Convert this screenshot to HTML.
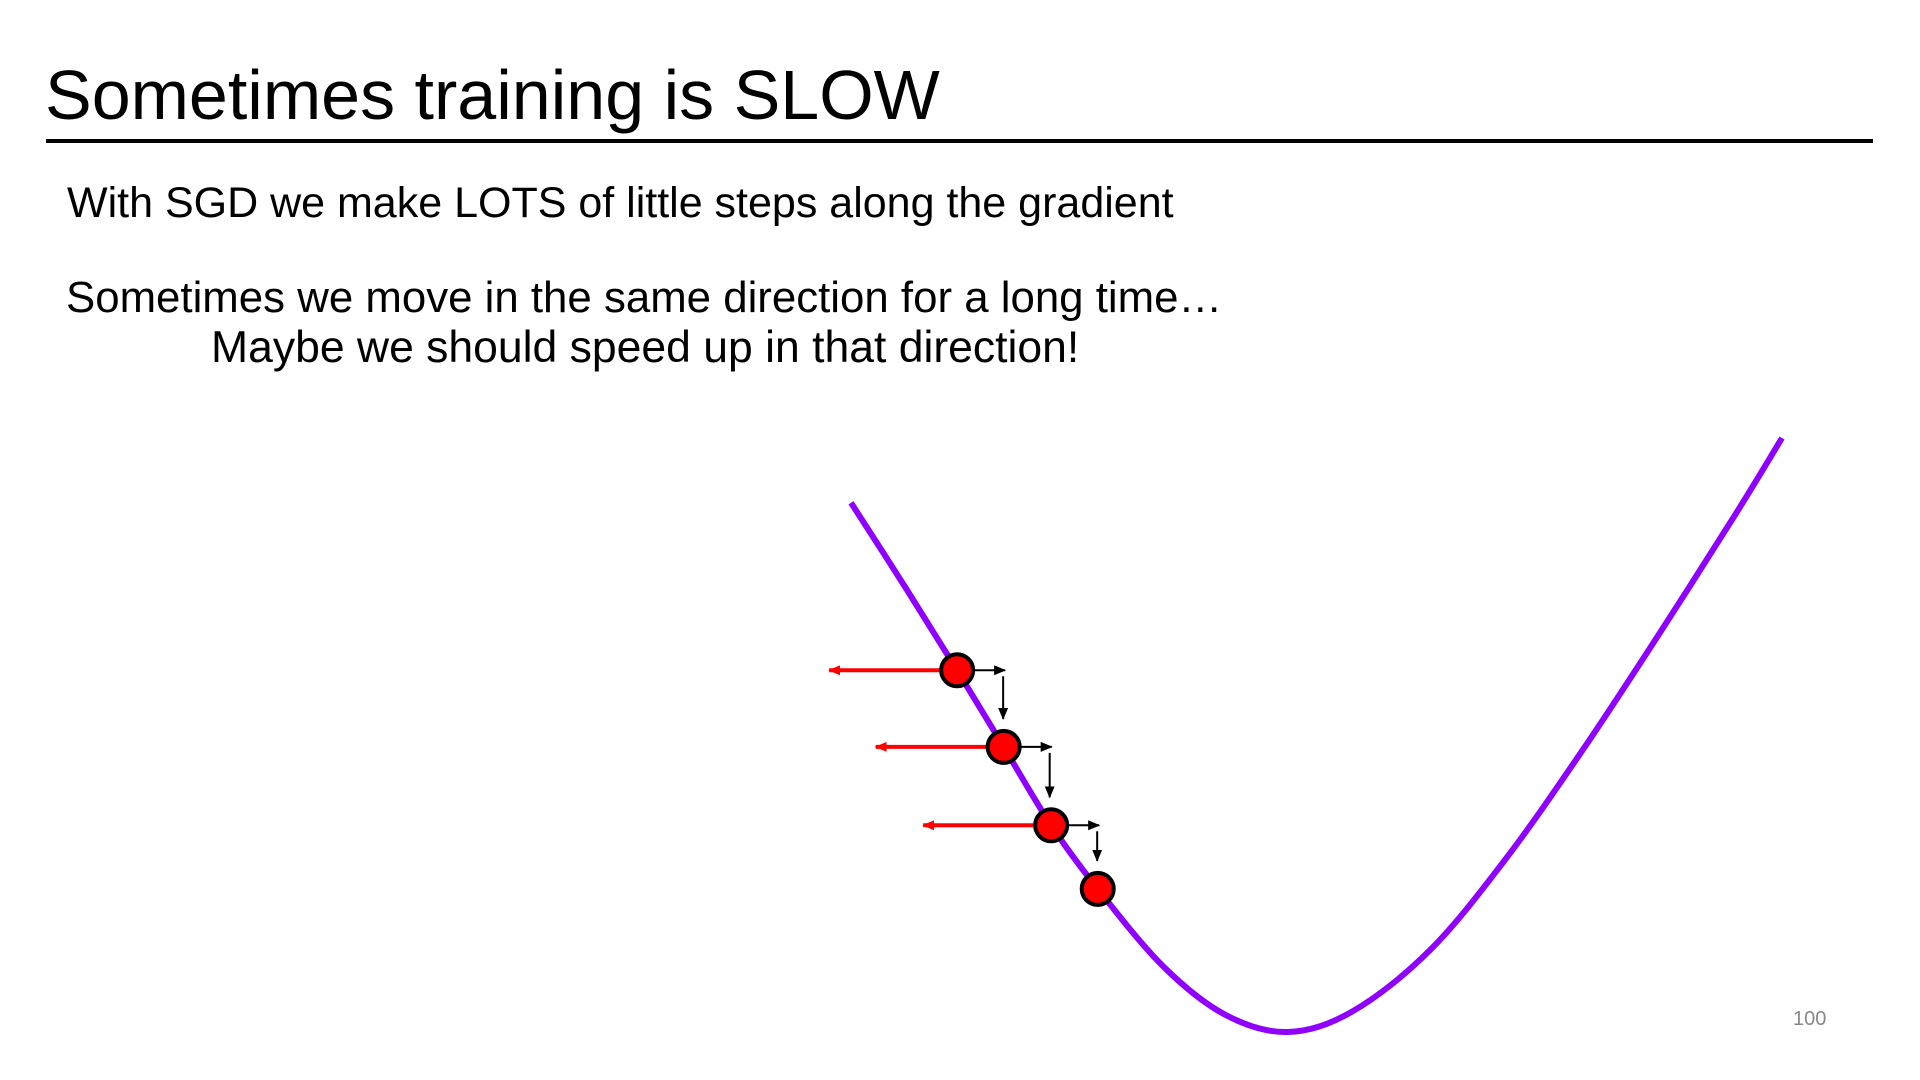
<!DOCTYPE html>
<html><head><meta charset="utf-8"><style>
html,body{margin:0;padding:0;width:1920px;height:1080px;background:#fff;overflow:hidden;font-family:"Liberation Sans",sans-serif;}
.t{position:absolute;white-space:nowrap;color:#000;}
</style></head><body>
<div class="t" style="left:45px;top:55px;font-size:70px;font-weight:300;">Sometimes training is SLOW</div>
<div style="position:absolute;left:46px;top:139px;width:1827px;height:4px;background:#000;"></div>
<div class="t" style="left:67px;top:179px;font-size:43px;">With SGD we make LOTS of little steps along the gradient</div>
<div class="t" style="left:66px;top:273px;font-size:43.8px;">Sometimes we move in the same direction for a long time…</div>
<div class="t" style="left:211px;top:323px;font-size:44.5px;">Maybe we should speed up in that direction!</div>
<div class="t" style="left:1793px;top:1008px;font-size:20px;color:#888;">100</div>
<svg id="chart" width="1920" height="1080" style="position:absolute;left:0;top:0;">
<defs>
<marker id="ar" markerWidth="12" markerHeight="10" refX="11" refY="5" orient="auto" markerUnits="userSpaceOnUse"><path d="M0,0 L12,5 L0,10 z" fill="red"/></marker>
<marker id="ab" markerWidth="12" markerHeight="10" refX="11" refY="5" orient="auto" markerUnits="userSpaceOnUse"><path d="M0,0 L12,5 L0,10 z" fill="#000"/></marker>
</defs>
</svg>
<script>
const curveX=[0,5.9,11.4,16.4,21.5,26.5,33.5,40.2,46.9,53.9,62.2,70.4,78.6,86.8,95.1,100];
const curveY=[89.1,74.7,60.9,48.0,34.8,24.1,11.1,2.9,0,3.5,13.8,29.3,47.5,67.0,87.4,100];
const ballIndex=[2,3,4,5];
const sx=v=>851+v*9.31;
const sy=v=>1032-v*5.94;
const svg=document.getElementById('chart');
const NS='http://www.w3.org/2000/svg';
const P=curveX.map((x,i)=>[sx(x),sy(curveY[i])]);
let d='M'+P[0][0]+','+P[0][1];
for(let i=0;i<P.length-1;i++){
  const p0=P[Math.max(0,i-1)],p1=P[i],p2=P[i+1],p3=P[Math.min(P.length-1,i+2)];
  d+=' C'+(p1[0]+(p2[0]-p0[0])/6)+','+(p1[1]+(p2[1]-p0[1])/6)+' '+(p2[0]-(p3[0]-p1[0])/6)+','+(p2[1]-(p3[1]-p1[1])/6)+' '+p2[0]+','+p2[1];
}
const path=document.createElementNS(NS,'path');


path.setAttribute('d',d);path.setAttribute('fill','none');path.setAttribute('stroke','#8f00ff');path.setAttribute('stroke-width','6');
svg.appendChild(path);
function line(x1,y1,x2,y2,c,w,m,name){
  const l=document.createElementNS(NS,'line');
  
  
  l.setAttribute('x1',x1);l.setAttribute('y1',y1);l.setAttribute('x2',x2);l.setAttribute('y2',y2);
  l.setAttribute('stroke',c);l.setAttribute('stroke-width',w);l.setAttribute('marker-end','url(#'+m+')');
  svg.appendChild(l);
}
ballIndex.forEach((bi,k)=>{
  const x=sx(curveX[bi]),y=sy(curveY[bi]);
  if(k<ballIndex.length-1){
    const ny=sy(curveY[ballIndex[k+1]]);
    line(x,y,x-128,y,'red',4,'ar','gradient-arrow');
    line(x,y,x+48,y,'#000',2,'ab','step-arrow');
    line(x+46,y+6,x+46,ny-28,'#000',2,'ab','drop-arrow');
  }
});
ballIndex.forEach(bi=>{
  const c=document.createElementNS(NS,'circle');
  
  
  c.setAttribute('cx',sx(curveX[bi]));c.setAttribute('cy',sy(curveY[bi]));c.setAttribute('r',16);
  c.setAttribute('fill','#ff0000');c.setAttribute('stroke','#000');c.setAttribute('stroke-width','4');
  svg.appendChild(c);
});
</script>
</body></html>
